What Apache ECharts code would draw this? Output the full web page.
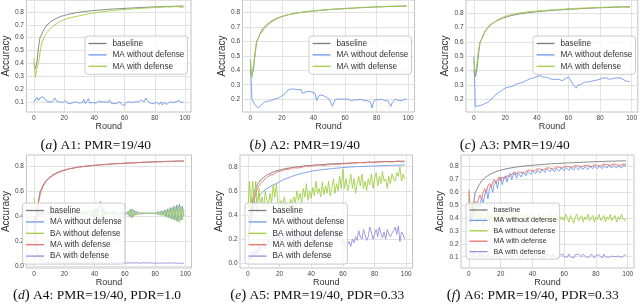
<!DOCTYPE html>
<html><head><meta charset="utf-8">
<script src="https://cdn.jsdelivr.net/npm/echarts@6/dist/echarts.min.js"></script>
<style>html,body{margin:0;padding:0;background:#fff}#c{width:640px;height:308px}</style>
</head><body><div id="c"></div>
<script>
// ---------- data (rounds 0..99) ----------
const rounds = Array.from({length: 100}, (_, i) => i);
const xTicks = [0, 20, 40, 60, 80, 100];

const baseline = [0.40,0.36,0.41,0.52,0.60,0.62,0.65,0.67,0.69,0.70,
0.712,0.72,0.731,0.736,0.745,0.75,0.756,0.76,0.766,0.77,
0.772,0.777,0.779,0.783,0.785,0.788,0.789,0.792,0.794,0.795,
0.798,0.799,0.801,0.802,0.804,0.805,0.806,0.808,0.809,0.81,
0.811,0.812,0.813,0.815,0.815,0.817,0.817,0.819,0.819,0.82,
0.821,0.821,0.823,0.823,0.824,0.825,0.825,0.827,0.826,0.828,
0.828,0.829,0.829,0.831,0.83,0.832,0.831,0.833,0.833,0.834,
0.834,0.835,0.835,0.836,0.836,0.837,0.837,0.838,0.838,0.839,
0.839,0.84,0.84,0.841,0.84,0.842,0.841,0.842,0.843,0.842,
0.843,0.844,0.843,0.844,0.845,0.844,0.845,0.845,0.846,0.845];

// A1
const a1MaNoDef = [0.10,0.10,0.135,0.11,0.13,0.12,0.14,0.125,0.11,0.105,
0.10,0.095,0.10,0.11,0.13,0.105,0.09,0.10,0.085,0.095,
0.10,0.11,0.09,0.10,0.085,0.07,0.095,0.08,0.10,0.11,
0.09,0.10,0.095,0.12,0.085,0.07,0.125,0.09,0.10,0.095,
0.10,0.09,0.10,0.105,0.095,0.10,0.09,0.10,0.11,0.095,
0.115,0.09,0.10,0.085,0.10,0.09,0.095,0.10,0.08,0.09,
0.07,0.095,0.09,0.10,0.085,0.095,0.09,0.10,0.095,0.10,
0.09,0.115,0.125,0.10,0.13,0.11,0.12,0.09,0.10,0.085,
0.10,0.095,0.09,0.08,0.10,0.075,0.095,0.10,0.08,0.095,
0.10,0.09,0.095,0.085,0.10,0.09,0.11,0.095,0.09,0.10];
const a1MaDef = [0.44,0.29,0.36,0.40,0.48,0.55,0.58,0.61,0.63,0.645,
0.66,0.67,0.68,0.69,0.70,0.71,0.715,0.72,0.73,0.735,
0.74,0.743,0.748,0.75,0.755,0.758,0.76,0.763,0.765,0.768,
0.77,0.773,0.775,0.778,0.78,0.782,0.785,0.786,0.789,0.79,
0.792,0.795,0.796,0.798,0.80,0.801,0.802,0.804,0.805,0.806,
0.808,0.809,0.81,0.811,0.812,0.813,0.815,0.816,0.817,0.818,
0.819,0.82,0.821,0.821,0.822,0.823,0.824,0.825,0.826,0.826,
0.827,0.828,0.829,0.83,0.83,0.831,0.832,0.832,0.833,0.834,
0.834,0.835,0.836,0.836,0.837,0.838,0.838,0.839,0.84,0.84,
0.838,0.84,0.841,0.84,0.842,0.84,0.839,0.838,0.836,0.835];

// A2
const a2MaNoDef = [0.47,0.20,0.19,0.16,0.15,0.14,0.15,0.16,0.17,0.18,
0.18,0.185,0.19,0.19,0.195,0.20,0.20,0.205,0.21,0.215,
0.22,0.23,0.24,0.25,0.265,0.27,0.27,0.268,0.27,0.27,
0.265,0.27,0.268,0.24,0.245,0.25,0.25,0.255,0.25,0.25,
0.245,0.24,0.19,0.215,0.23,0.225,0.225,0.22,0.215,0.21,
0.20,0.19,0.15,0.18,0.20,0.205,0.20,0.205,0.20,0.195,
0.20,0.195,0.20,0.195,0.19,0.20,0.195,0.20,0.195,0.19,
0.20,0.195,0.19,0.20,0.19,0.185,0.18,0.14,0.18,0.195,
0.20,0.195,0.19,0.20,0.195,0.19,0.20,0.19,0.185,0.15,
0.18,0.19,0.20,0.195,0.19,0.20,0.19,0.195,0.20,0.20];
const a2MaDef = [0.48,0.35,0.44,0.50,0.60,0.62,0.65,0.66,0.67,0.69,
0.70,0.71,0.72,0.73,0.74,0.745,0.75,0.757,0.762,0.768,
0.772,0.776,0.779,0.782,0.784,0.787,0.79,0.79,0.793,0.795,
0.797,0.80,0.80,0.802,0.804,0.805,0.806,0.808,0.809,0.81,
0.81,0.812,0.813,0.814,0.815,0.816,0.817,0.818,0.819,0.82,
0.82,0.821,0.822,0.823,0.824,0.824,0.825,0.826,0.827,0.827,
0.828,0.829,0.83,0.83,0.831,0.831,0.832,0.833,0.833,0.834,
0.834,0.835,0.835,0.836,0.837,0.837,0.838,0.838,0.839,0.839,
0.84,0.84,0.841,0.841,0.842,0.842,0.84,0.843,0.843,0.842,
0.843,0.844,0.84,0.844,0.845,0.843,0.845,0.842,0.843,0.845];

// A3
const a3MaNoDef = [0.50,0.15,0.16,0.155,0.16,0.16,0.165,0.17,0.165,0.18,
0.19,0.20,0.21,0.22,0.235,0.24,0.25,0.26,0.265,0.27,
0.28,0.28,0.285,0.29,0.29,0.295,0.30,0.305,0.31,0.31,
0.315,0.32,0.325,0.33,0.335,0.34,0.345,0.35,0.35,0.355,
0.36,0.355,0.365,0.36,0.355,0.35,0.355,0.35,0.345,0.34,
0.34,0.345,0.34,0.335,0.34,0.335,0.33,0.34,0.345,0.34,
0.355,0.34,0.32,0.30,0.29,0.28,0.30,0.31,0.305,0.315,
0.32,0.325,0.32,0.33,0.325,0.335,0.33,0.34,0.335,0.345,
0.34,0.345,0.35,0.34,0.35,0.345,0.34,0.35,0.345,0.34,
0.35,0.345,0.35,0.34,0.345,0.335,0.33,0.34,0.325,0.32];
const a3MaDef = [0.48,0.38,0.45,0.55,0.60,0.62,0.64,0.67,0.68,0.70,
0.72,0.71,0.73,0.74,0.745,0.75,0.76,0.765,0.77,0.775,
0.78,0.785,0.787,0.79,0.792,0.795,0.797,0.80,0.80,0.802,
0.804,0.806,0.807,0.808,0.81,0.811,0.812,0.813,0.814,0.815,
0.816,0.817,0.818,0.819,0.82,0.82,0.821,0.822,0.823,0.824,
0.825,0.825,0.826,0.827,0.828,0.828,0.829,0.83,0.83,0.831,
0.832,0.832,0.833,0.833,0.834,0.834,0.835,0.835,0.836,0.836,
0.837,0.837,0.838,0.838,0.839,0.839,0.84,0.84,0.84,0.841,
0.841,0.842,0.842,0.843,0.843,0.844,0.844,0.845,0.845,0.844,
0.846,0.845,0.844,0.846,0.845,0.843,0.842,0.844,0.841,0.84];

// A4
const a4MaNoDef = [0.30,0.38,0.42,0.45,0.40,0.44,0.41,0.43,0.42,0.44,
0.42,0.43,0.41,0.44,0.42,0.43,0.42,0.43,0.42,0.43,
0.42,0.44,0.41,0.43,0.42,0.43,0.42,0.44,0.41,0.43,
0.42,0.43,0.42,0.44,0.41,0.43,0.42,0.44,0.40,0.45,
0.39,0.46,0.38,0.48,0.52,0.40,0.46,0.41,0.44,0.42,
0.43,0.42,0.44,0.41,0.43,0.42,0.44,0.42,0.43,0.42,
0.43,0.42,0.44,0.40,0.46,0.39,0.45,0.41,0.44,0.42,
0.43,0.42,0.435,0.425,0.43,0.425,0.43,0.425,0.43,0.425,
0.435,0.42,0.44,0.415,0.445,0.41,0.45,0.40,0.46,0.39,
0.47,0.38,0.48,0.37,0.49,0.36,0.50,0.37,0.48,0.40];
const a4BaNoDef = [0.55,0.47,0.43,0.40,0.45,0.41,0.44,0.42,0.43,0.41,
0.43,0.42,0.44,0.41,0.43,0.42,0.43,0.42,0.43,0.42,
0.43,0.41,0.44,0.42,0.43,0.42,0.43,0.41,0.44,0.42,
0.43,0.42,0.43,0.41,0.44,0.42,0.43,0.41,0.45,0.40,
0.46,0.39,0.47,0.37,0.34,0.45,0.39,0.44,0.41,0.43,
0.42,0.43,0.41,0.44,0.42,0.43,0.41,0.43,0.42,0.43,
0.42,0.43,0.41,0.45,0.39,0.46,0.40,0.44,0.41,0.43,
0.42,0.43,0.415,0.425,0.42,0.425,0.42,0.425,0.42,0.425,
0.415,0.43,0.41,0.435,0.405,0.44,0.40,0.45,0.39,0.46,
0.38,0.47,0.37,0.48,0.36,0.49,0.35,0.48,0.37,0.45];
const a4MaDef = [0.22,0.33,0.46,0.51,0.57,0.61,0.64,0.66,0.68,0.695,
0.705,0.715,0.725,0.733,0.74,0.748,0.752,0.758,0.762,0.768,
0.77,0.774,0.778,0.78,0.784,0.786,0.788,0.79,0.793,0.794,
0.796,0.798,0.80,0.801,0.803,0.804,0.806,0.807,0.808,0.81,
0.81,0.812,0.812,0.814,0.815,0.816,0.816,0.818,0.818,0.819,
0.82,0.821,0.822,0.822,0.823,0.824,0.825,0.825,0.826,0.827,
0.827,0.828,0.829,0.829,0.83,0.831,0.831,0.832,0.832,0.833,
0.834,0.834,0.835,0.835,0.836,0.836,0.837,0.837,0.838,0.838,
0.839,0.839,0.84,0.84,0.84,0.841,0.841,0.842,0.842,0.842,
0.843,0.843,0.843,0.844,0.844,0.844,0.845,0.845,0.845,0.845];
const a4BaDef = [0.35,0.20,0.12,0.07,0.05,0.04,0.035,0.03,0.03,0.028,
0.025,0.026,0.024,0.025,0.027,0.025,0.024,0.026,0.025,0.023,
0.026,0.025,0.024,0.027,0.025,0.026,0.024,0.025,0.026,0.024,
0.025,0.027,0.025,0.024,0.026,0.025,0.023,0.025,0.026,0.024,
0.025,0.026,0.024,0.025,0.027,0.024,0.025,0.026,0.025,0.024,
0.026,0.025,0.024,0.025,0.026,0.024,0.025,0.027,0.025,0.024,
0.025,0.026,0.024,0.025,0.026,0.025,0.024,0.026,0.025,0.024,
0.023,0.025,0.026,0.024,0.025,0.024,0.026,0.025,0.024,0.025,
0.024,0.025,0.023,0.025,0.024,0.026,0.024,0.025,0.023,0.024,
0.025,0.023,0.024,0.025,0.022,0.024,0.023,0.025,0.022,0.023];

// A5
const a5MaNoDef = [0.15,0.25,0.35,0.42,0.47,0.50,0.53,0.55,0.57,0.58,
0.60,0.61,0.62,0.625,0.635,0.64,0.65,0.655,0.66,0.67,
0.675,0.68,0.69,0.695,0.70,0.705,0.71,0.715,0.72,0.725,
0.73,0.733,0.737,0.74,0.745,0.748,0.75,0.753,0.757,0.76,
0.762,0.765,0.767,0.77,0.77,0.772,0.775,0.776,0.778,0.78,
0.78,0.782,0.783,0.785,0.785,0.787,0.788,0.79,0.79,0.792,
0.793,0.794,0.795,0.796,0.797,0.797,0.798,0.799,0.80,0.80,
0.80,0.801,0.802,0.802,0.803,0.803,0.804,0.805,0.805,0.806,
0.806,0.807,0.807,0.808,0.808,0.809,0.809,0.81,0.81,0.81,
0.811,0.811,0.812,0.812,0.812,0.813,0.813,0.813,0.814,0.814];
const a5BaNoDef = [0.40,0.68,0.45,0.68,0.50,0.68,0.42,0.62,0.48,0.55,
0.45,0.60,0.52,0.48,0.58,0.50,0.65,0.55,0.66,0.50,
0.45,0.52,0.48,0.55,0.47,0.50,0.46,0.53,0.49,0.55,
0.50,0.60,0.52,0.58,0.50,0.62,0.55,0.66,0.52,0.60,
0.54,0.63,0.56,0.68,0.58,0.62,0.55,0.67,0.57,0.64,
0.58,0.68,0.56,0.62,0.70,0.58,0.66,0.60,0.72,0.62,
0.78,0.62,0.70,0.60,0.66,0.74,0.62,0.70,0.58,0.66,
0.72,0.64,0.74,0.62,0.68,0.60,0.70,0.65,0.74,0.62,
0.70,0.75,0.64,0.72,0.66,0.76,0.68,0.70,0.62,0.72,
0.66,0.74,0.70,0.68,0.75,0.72,0.80,0.68,0.74,0.70];
const a5MaDef = [0.20,0.32,0.40,0.46,0.52,0.58,0.62,0.64,0.66,0.67,
0.69,0.70,0.71,0.715,0.73,0.74,0.735,0.75,0.755,0.75,
0.76,0.765,0.77,0.77,0.775,0.78,0.78,0.785,0.79,0.785,
0.79,0.795,0.79,0.80,0.795,0.80,0.805,0.80,0.805,0.81,
0.805,0.81,0.81,0.805,0.815,0.81,0.815,0.815,0.81,0.82,
0.815,0.82,0.82,0.815,0.82,0.825,0.82,0.825,0.82,0.825,
0.825,0.83,0.825,0.83,0.825,0.83,0.83,0.835,0.83,0.83,
0.835,0.83,0.835,0.835,0.83,0.835,0.84,0.835,0.835,0.84,
0.835,0.84,0.84,0.835,0.84,0.84,0.845,0.84,0.84,0.845,
0.84,0.845,0.84,0.845,0.845,0.84,0.845,0.845,0.84,0.845];
const a5BaDef = [0.02,0.05,0.03,0.10,0.06,0.12,0.08,0.15,0.10,0.13,
0.18,0.12,0.16,0.20,0.14,0.18,0.22,0.15,0.20,0.17,
0.23,0.16,0.20,0.25,0.18,0.22,0.15,0.24,0.20,0.18,
0.26,0.20,0.22,0.17,0.25,0.21,0.28,0.19,0.23,0.20,
0.26,0.18,0.22,0.27,0.20,0.24,0.19,0.26,0.21,0.25,
0.18,0.24,0.22,0.28,0.20,0.23,0.26,0.19,0.24,0.21,
0.16,0.18,0.12,0.16,0.18,0.14,0.20,0.17,0.22,0.19,
0.27,0.22,0.20,0.28,0.24,0.19,0.22,0.30,0.26,0.20,
0.24,0.28,0.22,0.30,0.25,0.21,0.26,0.20,0.28,0.24,
0.22,0.25,0.27,0.30,0.24,0.31,0.18,0.26,0.24,0.20];

// A6
const a6MaNoDef = [0.55,0.35,0.42,0.48,0.45,0.52,0.48,0.50,0.56,0.52,
0.58,0.62,0.55,0.63,0.66,0.60,0.67,0.69,0.63,0.70,
0.72,0.66,0.71,0.73,0.68,0.73,0.75,0.70,0.74,0.76,
0.71,0.75,0.765,0.72,0.76,0.775,0.73,0.765,0.78,0.74,
0.77,0.785,0.745,0.775,0.79,0.75,0.78,0.79,0.755,0.785,
0.795,0.76,0.785,0.795,0.76,0.79,0.80,0.765,0.79,0.80,
0.77,0.795,0.805,0.77,0.795,0.805,0.775,0.80,0.81,0.775,
0.80,0.81,0.78,0.80,0.81,0.78,0.805,0.81,0.785,0.805,
0.815,0.785,0.805,0.815,0.785,0.81,0.815,0.79,0.81,0.815,
0.79,0.81,0.815,0.79,0.81,0.815,0.79,0.81,0.815,0.805];
const a6BaNoDef = [0.60,0.45,0.52,0.40,0.48,0.36,0.45,0.38,0.44,0.35,
0.42,0.38,0.45,0.36,0.43,0.39,0.41,0.36,0.44,0.38,
0.42,0.37,0.44,0.39,0.41,0.36,0.43,0.40,0.38,0.44,
0.37,0.42,0.39,0.44,0.36,0.41,0.43,0.38,0.42,0.37,
0.44,0.39,0.41,0.36,0.43,0.40,0.38,0.43,0.37,0.42,
0.40,0.44,0.37,0.41,0.39,0.43,0.37,0.42,0.39,0.41,
0.38,0.43,0.40,0.37,0.42,0.39,0.36,0.41,0.43,0.38,
0.40,0.42,0.37,0.41,0.39,0.43,0.38,0.40,0.42,0.37,
0.41,0.39,0.43,0.38,0.40,0.42,0.37,0.41,0.39,0.43,
0.38,0.40,0.42,0.37,0.41,0.39,0.43,0.40,0.38,0.40];
const a6MaDef = [0.62,0.40,0.45,0.50,0.53,0.50,0.55,0.58,0.55,0.60,
0.63,0.60,0.65,0.67,0.64,0.68,0.70,0.67,0.70,0.72,
0.69,0.72,0.735,0.71,0.73,0.745,0.725,0.74,0.755,0.735,
0.75,0.76,0.745,0.755,0.77,0.75,0.765,0.775,0.76,0.77,
0.78,0.765,0.775,0.785,0.77,0.78,0.79,0.775,0.785,0.79,
0.78,0.79,0.795,0.78,0.79,0.80,0.785,0.795,0.80,0.79,
0.80,0.805,0.79,0.80,0.805,0.795,0.80,0.81,0.795,0.805,
0.81,0.80,0.805,0.81,0.80,0.81,0.815,0.80,0.81,0.815,
0.805,0.81,0.815,0.805,0.81,0.82,0.805,0.815,0.82,0.81,
0.815,0.82,0.81,0.815,0.82,0.81,0.815,0.82,0.812,0.818];
const a6BaDef = [0.15,0.13,0.10,0.14,0.11,0.12,0.09,0.13,0.10,0.12,
0.11,0.09,0.12,0.10,0.11,0.09,0.12,0.10,0.11,0.09,
0.11,0.10,0.12,0.09,0.11,0.10,0.12,0.10,0.09,0.11,
0.10,0.12,0.09,0.11,0.10,0.115,0.09,0.11,0.10,0.12,
0.10,0.09,0.11,0.10,0.12,0.095,0.11,0.10,0.09,0.115,
0.10,0.11,0.09,0.12,0.10,0.105,0.09,0.11,0.10,0.12,
0.10,0.11,0.095,0.12,0.10,0.11,0.09,0.115,0.10,0.12,
0.11,0.10,0.12,0.105,0.095,0.11,0.10,0.12,0.105,0.09,
0.11,0.10,0.115,0.10,0.09,0.12,0.10,0.11,0.095,0.10,
0.105,0.11,0.10,0.09,0.105,0.10,0.095,0.10,0.11,0.115];

// ---------- styling / layout ----------
const C = {grey: '#7c7c7c', blue: '#6f98ec', green: '#a2cf45', red: '#e8706b', purple: '#958fdc'};
const Z = '\u200b'; // keeps bottom-row legend names distinct (different colours)
const topNames = ['baseline', 'MA without defense', 'MA with defense'];
const botNames = ['baseline' + Z, 'MA without defense' + Z, 'BA without defense' + Z, 'MA with defense' + Z, 'BA with defense' + Z];

const panels = [
  {grid: {left: 19, top: -1, width: 172, height: 113}, y: [0.0207, 0.893], yt: [0.1,0.2,0.3,0.4,0.5,0.6,0.7,0.8],
   lg: {left: 85, top: 36}, cap: [95.7, 145.5, 'a', ' A1: PMR=19/40'], fs: 8.2,
   s: [[topNames[0], baseline, C.grey], [topNames[1], a1MaNoDef, C.blue], [topNames[2], a1MaDef, C.green]]},
  {grid: {left: 242.5, top: -1, width: 172, height: 113}, y: [0.111, 0.887], yt: [0.2,0.3,0.4,0.5,0.6,0.7,0.8],
   lg: {left: 309, top: 36}, cap: [304.8, 145.5, 'b', ' A2: PMR=19/40'], fs: 8.2,
   s: [[topNames[0], baseline, C.grey], [topNames[1], a2MaNoDef, C.blue], [topNames[2], a2MaDef, C.green]]},
  {grid: {left: 466, top: -1, width: 172, height: 113}, y: [0.112, 0.893], yt: [0.2,0.3,0.4,0.5,0.6,0.7,0.8],
   lg: {left: 533, top: 36}, cap: [514.8, 145.5, 'c', ' A3: PMR=19/40'], fs: 8.2,
   s: [[topNames[0], baseline, C.grey], [topNames[1], a3MaNoDef, C.blue], [topNames[2], a3MaDef, C.green]]},
  {grid: {left: 19.5, top: 155, width: 172, height: 113}, y: [-0.016, 0.894], yt: [0,0.2,0.4,0.6,0.8],
   lg: {left: 22.5, top: 203}, cap: [97, 295.5, 'd', ' A4: PMR=19/40, PDR=1.0'], fs: 8.2,
   s: [[botNames[0], baseline, C.grey], [botNames[1], a4MaNoDef, C.blue], [botNames[2], a4BaNoDef, C.green], [botNames[3], a4MaDef, C.red], [botNames[4], a4BaDef, C.purple]]},
  {grid: {left: 240, top: 155, width: 172.5, height: 113}, y: [-0.039, 0.897], yt: [0,0.2,0.4,0.6,0.8],
   lg: {left: 245, top: 203}, cap: [317.2, 295.5, 'e', ' A5: PMR=19/40, PDR=0.33'], fs: 8.2,
   s: [[botNames[0], baseline, C.grey], [botNames[1], a5MaNoDef, C.blue], [botNames[2], a5BaNoDef, C.green], [botNames[3], a5MaDef, C.red], [botNames[4], a5BaDef, C.purple]]},
  {grid: {left: 461, top: 155, width: 173, height: 113}, y: [0.0123, 0.891], yt: [0.1,0.2,0.3,0.4,0.5,0.6,0.7,0.8],
   lg: {left: 466, top: 203}, cap: [532.8, 295.5, 'f', ' A6: PMR=19/40, PDR=0.33'], fs: 7.2,
   s: [[botNames[0], baseline, C.grey], [botNames[1], a6MaNoDef, C.blue], [botNames[2], a6BaNoDef, C.green], [botNames[3], a6MaDef, C.red], [botNames[4], a6BaDef, C.purple]]}
];

const FONT = 'Liberation Sans';
const option = {animation: false, backgroundColor: '#fff', grid: [], xAxis: [], yAxis: [], series: [], legend: [], graphic: []};
panels.forEach((p, k) => {
  option.grid.push(Object.assign({show: true, borderColor: '#c4c4c4', borderWidth: 1, backgroundColor: 'transparent'}, p.grid));
  option.xAxis.push({
    type: 'value', gridIndex: k, min: -4.95, max: 103.95,
    name: 'Round', nameLocation: 'middle', nameGap: 8,
    nameTextStyle: {fontFamily: FONT, fontSize: 9, color: '#333'},
    axisLine: {show: false}, axisTick: {show: false, customValues: xTicks},
    axisLabel: {customValues: xTicks, fontFamily: FONT, fontSize: 6.5, color: '#444', margin: 2.5},
    splitLine: {show: true, lineStyle: {color: '#e2e2e2', width: 1}}
  });
  option.yAxis.push({
    type: 'value', gridIndex: k, min: p.y[0], max: p.y[1],
    name: 'Accuracy', nameLocation: 'middle', nameGap: 11,
    nameTextStyle: {fontFamily: FONT, fontSize: 10, color: '#333'},
    axisLine: {show: false}, axisTick: {show: false, customValues: p.yt},
    axisLabel: {customValues: p.yt, fontFamily: FONT, fontSize: 6.5, color: '#444', margin: 2.5,
      formatter: v => Number(v).toFixed(1)},
    splitLine: {show: true, lineStyle: {color: '#e2e2e2', width: 1}}
  });
  p.s.forEach(([name, arr, color]) => {
    option.series.push({
      type: 'line', name, xAxisIndex: k, yAxisIndex: k, symbol: 'none', showSymbol: false,
      silent: true, color, lineStyle: {color, width: 0.9},
      data: rounds.map((r, i) => [r, arr[i]])
    });
  });
  option.legend.push({
    left: p.lg.left, top: p.lg.top, orient: 'vertical', data: p.s.map(s => s[0]),
    icon: 'rect', itemWidth: 18, itemHeight: 1.3, itemGap: 3.4, padding: [3.5, 3, 4, 3.5],
    backgroundColor: 'rgba(255,255,255,0.8)', borderColor: '#cccccc', borderWidth: 1, borderRadius: 3,
    textStyle: {fontFamily: FONT, fontSize: p.fs, color: '#333', padding: [0, 0, 0, 1]},
    selectedMode: false
  });
  option.graphic.push({
    type: 'text', x: p.cap[0], y: p.cap[1], silent: true,
    style: {
      text: '{p|(}{i|' + p.cap[2] + '}{p|)}{t|' + p.cap[3] + '}',
      align: 'center', verticalAlign: 'middle',
      rich: {
        p: {fontFamily: 'Liberation Serif', fontSize: 15, fill: '#111'},
        i: {fontFamily: 'Liberation Serif', fontStyle: 'italic', fontSize: 13.5, fill: '#111'},
        t: {fontFamily: 'Liberation Serif', fontSize: 13.5, fill: '#111'}
      }
    }
  });
});

const chart = echarts.init(document.getElementById('c'), null, {renderer: 'canvas'});
chart.setOption(option);
</script>
</body></html>
